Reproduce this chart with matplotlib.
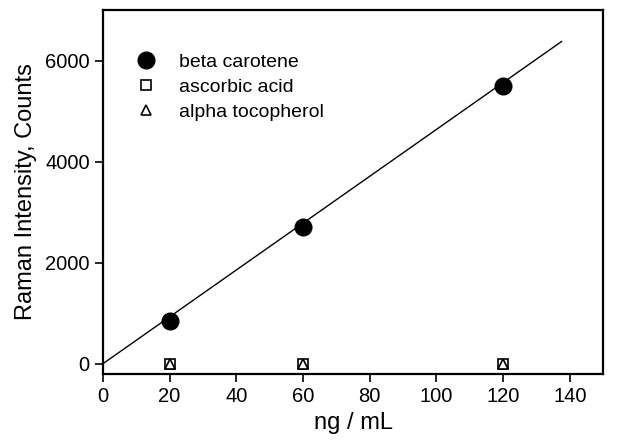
import numpy as np
import matplotlib.pyplot as plt

plt.rcParams['font.family'] = ['Liberation Sans', 'DejaVu Sans']

# Data
conc = [20, 60, 120]
beta_carotene = [850, 2700, 5500]
ascorbic_acid = [0, 0, 0]
alpha_tocopherol = [0, 0, 0]

# Linear fit line endpoints
fit_x = [0, 137.5]
fit_y = [0, 6380]

fig = plt.figure(figsize=(6.35, 4.44), dpi=100)
ax = fig.add_axes([0.162, 0.158, 0.788, 0.819])

ax.plot(fit_x, fit_y, 'k-', linewidth=1)
ax.plot(conc, beta_carotene, 'ko', markersize=12, linestyle='none', label='beta carotene')
ax.plot(conc, ascorbic_acid, 'ks', markersize=7, markerfacecolor='white',
        markeredgewidth=1.2, linestyle='none', label='ascorbic acid')
ax.plot(conc, alpha_tocopherol, 'k^', markersize=7, markerfacecolor='white',
        markeredgewidth=1.2, linestyle='none', label='alpha tocopherol')

ax.set_xlim(0, 150)
ax.set_ylim(-200, 7000)
ax.set_xticks(np.arange(0, 141, 20))
ax.set_yticks([0, 2000, 4000, 6000])

for s in ax.spines.values():
    s.set_linewidth(1.6)
ax.tick_params(direction='out', length=6, width=1.2, labelsize=14.5)

ax.set_xlabel('ng / mL', fontsize=17)
ax.set_ylabel('Raman Intensity, Counts', fontsize=17, labelpad=6)

ax.legend(loc='upper left', frameon=False, fontsize=14, bbox_to_anchor=(0.02, 0.93),
          handletextpad=0.9, labelspacing=0.38, handlelength=1.6)

plt.savefig('out.png', dpi=100)
